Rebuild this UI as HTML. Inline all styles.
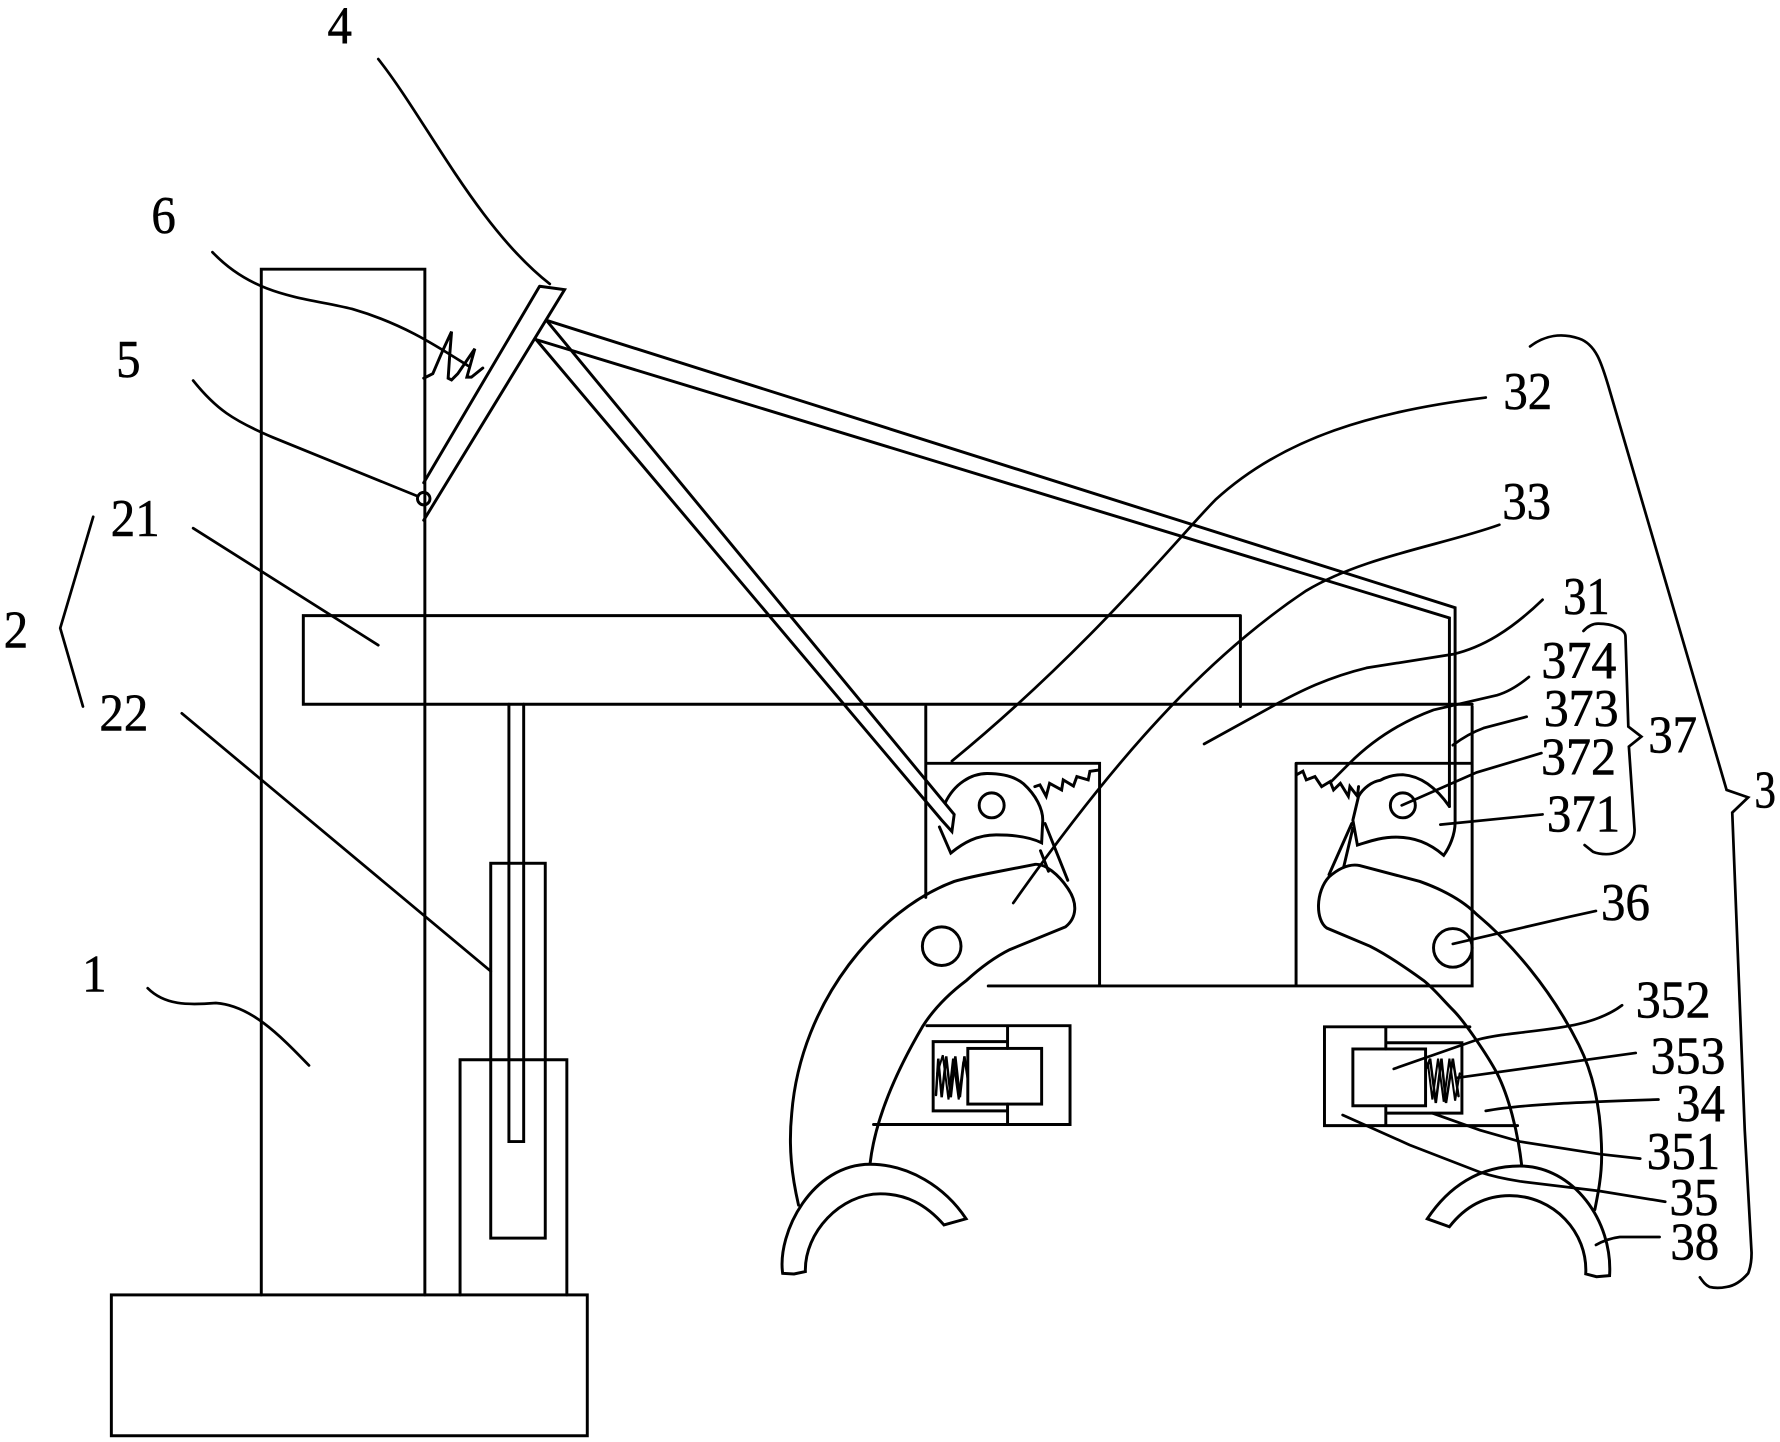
<!DOCTYPE html>
<html><head><meta charset="utf-8"><style>
html,body{margin:0;padding:0;background:#fff}
svg{display:block}
text{font-family:"Liberation Serif",serif;font-size:47px;fill:#000;stroke:#000;stroke-width:.5px;text-anchor:middle}
</style></head><body>
<svg width="1780" height="1442" viewBox="0 0 1567 1269.5" xmlns="http://www.w3.org/2000/svg">
<g fill="none" stroke="#000" stroke-width="2.6" stroke-linejoin="miter" stroke-linecap="round">
<!-- column/base -->
<path d="M230 1140V237H374V1140"/>
<rect x="98" y="1140" width="419" height="124"/>
<!-- beam -->
<path d="M1092 542H267V620H1296M1092 542V622"/>
<path d="M448 620V1005H461V620"/>
<rect x="432" y="760" width="48" height="330"/>
<path d="M405 1140V933H499V1140"/>
<!-- box -->
<path d="M815 622V790M815 672H968V867M1296 622V868H870M1141 672H1296M1141 672V867"/>
<!-- plate -->
<path d="M475 252L497 255L373 458M475 252L373 425"/>
<circle cx="373" cy="439" r="5.5"/>
<path d="M373 333L381 329L390 308L397.5 292L396 311L394.5 333L397.5 334.5L403 329L418 307L411 332L415 332L425 324"/>
<!-- rods -->
<path d="M481 282L1281 535V724M472 299L1276 544V710"/>
<path d="M481 282L840 717L838 732L829 722L472 299"/>
<!-- left cam -->
<path d="M832 707C840 690 855 681 869 681C885 681 895 685 901 690C912 700 918 712 918 722L917 742C905 736 890 735 877 735C860 735 848 742 837 751L827 728"/>
<circle cx="873" cy="709" r="11"/>
<path d="M920 725L940 775M916 749L923 767"/>
<path d="M911 692.5L915.5 691L921 701L924 689.6L934.6 695.4L936 686.6L945 692L948 683.7L958 686.6L959.5 679L967 678"/>
<!-- right cam -->
<path d="M1196 701C1200 694 1208 688 1215 687C1222 683 1228 682 1235 682C1248 683 1262 690 1276 710M1281 724C1281 735 1276 746 1271 753C1258 742 1245 737 1229 737C1215 737 1205 741 1195 744L1191 722L1196 701"/>
<circle cx="1235" cy="709" r="11"/>
<path d="M1190 725L1170 770M1191 729L1183 763"/>
<path d="M1141.5 682L1147 679L1150 686.6L1157.6 683.7L1163.5 692.5L1171 688L1174 695.4L1180 689.6L1187 701L1188.4 692.5L1195 701L1196 692.5"/>
<!-- left claw -->
<path d="M766 1024C770 990 785 950 812 904C822 888 835 875 851 863C862 853 875 843 889 836L938 816C948 808 949 795 940 782C932 770 920 760 911 761L870 769C860 771 850 773 840 776C775 800 705 880 697 980C694 1010 697 1035 703 1061"/>
<circle cx="829" cy="833" r="17"/>
<!-- right claw -->
<path d="M1339.5 1025C1336 995 1328 965 1318 945C1310 930 1290 900 1279 889C1270 880 1262 870 1253 863C1235 850 1220 840 1206 833L1168 817C1158 810 1158 785 1170 772C1178 765 1187 760 1197 762L1250 776C1275 785 1290 795 1300 805C1330 830 1365 870 1390 920C1405 950 1410 985 1410 1018C1410 1035 1407 1050 1404 1065"/>
<circle cx="1279" cy="834.5" r="17"/>
<!-- feet -->
<path d="M689 1121C684 1085 715 1025 766 1025C800 1025 832 1045 850.5 1073L831 1078.4C815 1060 797 1051 775 1051C740 1051 708 1085 709 1119.5L699 1121.6Z"/>
<path d="M1256.5 1073L1276 1080C1290 1062 1308 1052.6 1329 1052.6C1368 1052.6 1398 1085 1396 1121.5L1405.5 1124L1417 1123C1420 1075 1385 1026.5 1338 1026.5C1302 1026.5 1275 1045 1256.5 1073Z"/>
<!-- left cyl -->
<path d="M816 903H942V990H769M887 903V923M887 972V990M887 917H821.5V978H887"/>
<rect x="852" y="923" width="65" height="49"/>
<path d="M824 964L826 932L829 966L833 930L837 966L841 930L845 966L849 930L852 950" stroke-width="2.2"/>
<path d="M825 945L830 929L835 968L839 932L844 968L848 935" stroke-width="1.8"/>
<!-- right cyl -->
<path d="M1294 904H1166V991H1336M1220 904V923.5M1220 973.5V991M1220 918H1287V980H1220"/>
<rect x="1191" y="923.5" width="64" height="50"/>
<path d="M1256 940L1259 932L1264 971L1269 932L1273 971L1279 932L1284 965" stroke-width="2.2"/>
<path d="M1257 936L1261 968L1266 932L1271 970L1276 932L1281 969L1285 945" stroke-width="1.8"/>
<!-- leaders -->
<g stroke-width="2.4">
<path d="M333 52C375 105 420 200 484 250"/>
<path d="M187 222C225 262 270 262 310 272C355 285 385 305 412 322"/>
<path d="M170 335C190 360 205 370 240 385L368 437"/>
<path d="M170 465L333 568"/>
<path d="M82 455L53 553L73 622"/>
<path d="M160 628L432 855"/>
<path d="M130 870C145 885 165 885 190 883C220 885 245 910 272 938"/>
<path d="M1308 350C1210 362 1130 385 1070 440C1040 470 960 570 838 670"/>
<path d="M1320 462C1270 480 1200 490 1150 520C1060 580 980 670 892 795"/>
<path d="M1358 528C1330 555 1305 570 1279 576L1203 588C1170 596 1145 608 1118 623L1060 655"/>
<path d="M1346 596C1335 605 1325 610 1318 612L1262 625C1235 635 1210 650 1188 672L1171 689"/>
<path d="M1344 631L1306 641C1295 645 1287 650 1279 656"/>
<path d="M1357 663L1300 680L1234 709"/>
<path d="M1358 717L1268 726"/>
<path d="M1279 831L1382 807L1405 802"/>
<path d="M1227 941L1300 915.5C1340 905 1395 910 1428 885"/>
<path d="M1282 949L1440 927"/>
<path d="M1308 978C1340 972 1400 970 1460 968"/>
<path d="M1261 980L1303 995L1338 1005L1408 1016L1444 1020"/>
<path d="M1182 981.6L1241 1008L1303 1032C1315 1036 1325 1038 1338 1040L1408 1048.5L1466 1058"/>
<path d="M1405 1096C1412 1092 1418 1090 1426 1089L1461 1089"/>
<path d="M1394 555.5C1398 551 1402 549 1407 549C1413 549 1419 550 1423 552C1428 554 1431 557 1431 560.5L1433.5 639.7L1445 648.5L1434 657.3L1439 730.6C1439 737 1437 741 1433.5 744C1428 749 1421 752 1414 752C1409 752 1405 751 1402.6 750L1395 744"/>
<path d="M1347 305C1360 295 1375 293 1390 298C1405 303 1410 320 1416 340L1520 695.4L1539 702L1525 715.4L1536 995L1542 1103C1542 1110 1541 1116 1539 1121C1533 1128 1527 1132 1520 1133C1515 1134 1509 1134 1505 1133C1501 1131 1499 1128 1496.5 1124.5"/>
</g>
</g>
<text x="299" y="38" textLength="21.5" lengthAdjust="spacingAndGlyphs">4</text>
<text x="144" y="205" textLength="21.5" lengthAdjust="spacingAndGlyphs">6</text>
<text x="113" y="332" textLength="21.5" lengthAdjust="spacingAndGlyphs">5</text>
<text x="119" y="472" textLength="43" lengthAdjust="spacingAndGlyphs">21</text>
<text x="14" y="570" textLength="21.5" lengthAdjust="spacingAndGlyphs">2</text>
<text x="109" y="643" textLength="43" lengthAdjust="spacingAndGlyphs">22</text>
<text x="83" y="873" textLength="21.5" lengthAdjust="spacingAndGlyphs">1</text>
<text x="1345" y="360" textLength="43" lengthAdjust="spacingAndGlyphs">32</text>
<text x="1344" y="457" textLength="43" lengthAdjust="spacingAndGlyphs">33</text>
<text x="1396.6" y="540.5" textLength="41" lengthAdjust="spacingAndGlyphs">31</text>
<text x="1390" y="597" textLength="66" lengthAdjust="spacingAndGlyphs">374</text>
<text x="1392" y="639" textLength="66" lengthAdjust="spacingAndGlyphs">373</text>
<text x="1389.6" y="682" textLength="66" lengthAdjust="spacingAndGlyphs">372</text>
<text x="1394" y="732" textLength="64.5" lengthAdjust="spacingAndGlyphs">371</text>
<text x="1472.5" y="662.6" textLength="43" lengthAdjust="spacingAndGlyphs">37</text>
<text x="1431" y="810" textLength="43" lengthAdjust="spacingAndGlyphs">36</text>
<text x="1473" y="896" textLength="66" lengthAdjust="spacingAndGlyphs">352</text>
<text x="1486" y="945" textLength="66" lengthAdjust="spacingAndGlyphs">353</text>
<text x="1497" y="987" textLength="43" lengthAdjust="spacingAndGlyphs">34</text>
<text x="1482" y="1029" textLength="64.5" lengthAdjust="spacingAndGlyphs">351</text>
<text x="1491.3" y="1069.6" textLength="43" lengthAdjust="spacingAndGlyphs">35</text>
<text x="1492" y="1109" textLength="43" lengthAdjust="spacingAndGlyphs">38</text>
<text x="1554" y="711" textLength="19" lengthAdjust="spacingAndGlyphs">3</text>
</svg>
</body></html>
